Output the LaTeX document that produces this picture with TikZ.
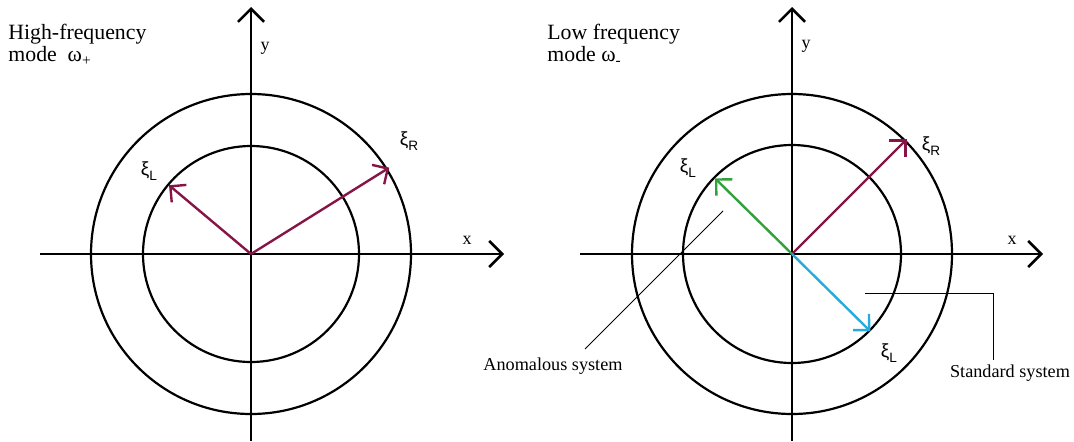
\documentclass[tikz,border=0pt]{standalone}
\usepackage{fontspec}
\setmainfont{Liberation Serif}
\newfontfamily\xisans{Liberation Sans}
\usetikzlibrary{arrows.meta,calc,positioning}
\definecolor{vecpurple}{RGB}{135,20,70}
\definecolor{vecgreen}{RGB}{50,160,60}
\definecolor{veccyan}{RGB}{40,170,220}
\tikzset{
  axisline/.style={line width=1.3pt,black,-{Straight Barb[length=6.5pt,width=13pt]}},
  ringline/.style={line width=1.1pt,black},
  vecarr/.style={line width=1.2pt,-{Straight Barb[length=5.7pt,width=11.4pt]}},
  leaderline/.style={line width=0.5pt,black},
  titletext/.style={align=left,anchor=north west,inner sep=0pt,font=\fontsize{10.9}{11}\selectfont},
  axislabel/.style={inner sep=0pt,font=\fontsize{9}{10}\selectfont},
  xilabel/.style={inner sep=0pt,font=\xisans\fontsize{9.5}{10}\selectfont},
  syslabel/.style={inner sep=0pt,font=\fontsize{9.1}{10}\selectfont}
}
\newcommand{\xisub}[1]{ξ\raisebox{-0.55ex}{\fontsize{6.8}{7}\selectfont #1}}

\begin{document}
\begin{tikzpicture}[x=0.5pt,y=0.5pt]

  \path[use as bounding box,fill=white] (0,0) rectangle (1074,441);

  \coordinate (OA) at (251,187);
  \coordinate (OB) at (792,187);

  % high-frequency mode
  \coordinate (xwA) at (40,187);  \coordinate (xeA) at (504,187);
  \coordinate (ysA) at (251,0);   \coordinate (ynA) at (251,434);
  \draw[ringline] (OA) circle[radius=160];
  \draw[ringline] (OA) circle[radius=108];
  \draw[axisline] (xwA) -- (xeA);
  \draw[axisline] (ysA) -- (ynA);
  \node[axislabel] (xlabA) at (467,201) {x};
  \node[axislabel] (ylabA) at (265,393) {y};
  \node[titletext] (titleA) at (8,417) {High-frequency\\mode\ \ ω\textsubscript{+}};

  \coordinate (xiLA) at ($(OA)+(140:107)$);
  \coordinate (xiRA) at ($(OA)+(32:163)$);
  \draw[vecarr,vecpurple] (OA) -- (xiLA);
  \draw[vecarr,vecpurple] (OA) -- (xiRA);
  \node[xilabel] (xiLlabA) at (149,270) {\xisub{L}};
  \node[xilabel] (xiRlabA) at (409,300) {\xisub{R}};

  % low frequency mode
  \coordinate (xwB) at (580,187);  \coordinate (xeB) at (1043,187);
  \coordinate (ysB) at (792,0);    \coordinate (ynB) at (792,434);
  \draw[ringline] (OB) circle[radius=160];
  \draw[ringline] (OB) circle[radius=109];
  \draw[axisline] (xwB) -- (xeB);
  \draw[axisline] (ysB) -- (ynB);
  \node[axislabel] (xlabB) at (1012,201) {x};
  \node[axislabel] (ylabB) at (806,395) {y};
  \node[titletext] (titleB) at (547,417) {Low frequency\\mode ω\textsubscript{-}};

  \coordinate (xiRB) at ($(OB)+(45:162)$);
  \coordinate (xiLB) at ($(OB)+(135.5:108)$);
  \coordinate (xiLBb) at ($(OB)+(-44.6:110)$);
  \draw[vecarr,vecpurple] (OB) -- (xiRB);
  \draw[vecarr,vecgreen] (OB) -- (xiLB);
  \draw[vecarr,veccyan] (OB) -- (xiLBb);
  \node[xilabel] (xiRlabB) at (931,295) {\xisub{R}};
  \node[xilabel] (xiLlabB) at (688,273) {\xisub{L}};
  \node[xilabel] (xiLlabBb) at (889,88) {\xisub{L}};

  \node[syslabel] (anomal) at (553,75) {Anomalous system};
  \node[syslabel] (standard) at (1010,68) {Standard system};
  \coordinate (anoTop) at (723,230);
  \coordinate (anoEnd) at (585,92);
  \coordinate (stdStart) at (865,148);
  \coordinate (stdEnd) at (993,81);
  \draw[leaderline] (anoTop) -- (anoEnd);
  \draw[leaderline] (stdStart) -| (stdEnd);
\end{tikzpicture}
\end{document}
